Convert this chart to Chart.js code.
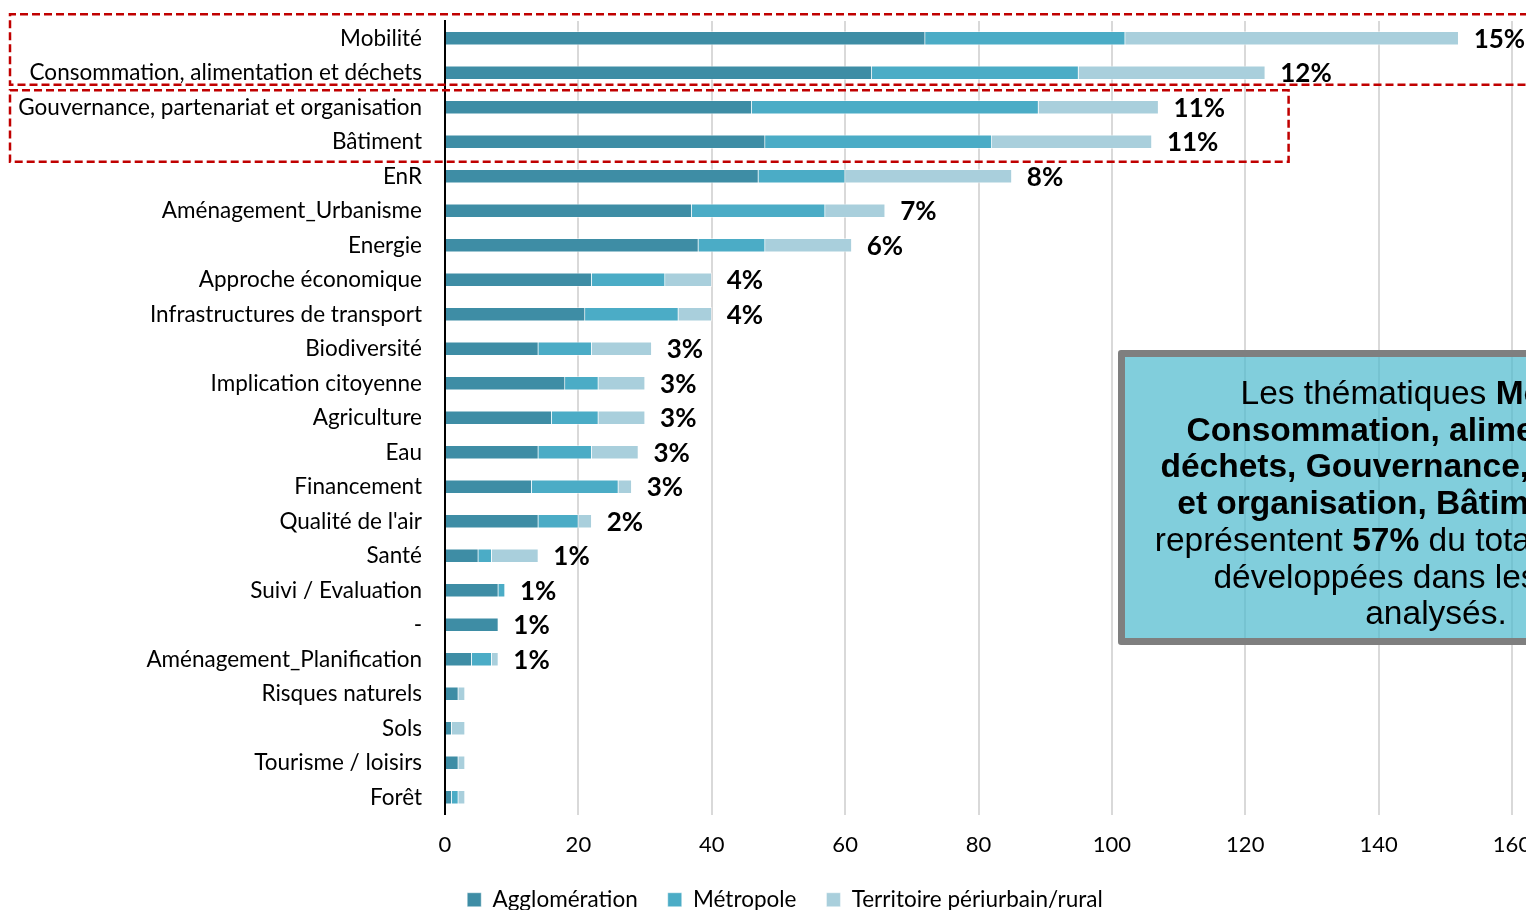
<!DOCTYPE html>
<html>
<head>
<meta charset="utf-8">
<script src="https://cdn.jsdelivr.net/npm/chart.js@4.4.1/dist/chart.umd.min.js"></script>
<style>
html, body { margin: 0; padding: 0; width: 1526px; height: 910px; overflow: hidden; background: #fff; }
#wrap { position: absolute; left: 0; top: 0; width: 1600px; height: 921px; }
#note {
  position: absolute; left: 1118px; top: 350px; width: 636px; height: 295px;
  box-sizing: border-box; border: 7px solid #7f7f7f; border-radius: 3px;
  background: rgba(75, 185, 205, 0.7);
  font-family: "Liberation Sans", Arial, sans-serif; font-size: 33.5px; line-height: 36.7px;
  text-align: center; color: #000; padding-top: 18px;
}
</style>
</head>
<body>
<div id="wrap">
  <canvas id="grafica" width="1600" height="921"></canvas>
  <div id="note">Les thématiques <b>Mobilité,</b><br><b>Consommation, alimentation et</b><br><b>déchets, Gouvernance, partenariat</b><br><b>et organisation, Bâtiment et EnR</b><br>représentent <b>57%</b> du total des actions<br>développées dans les PCAET<br>analysés.</div>
</div>
<script>
// donnees
var categories = ['Mobilité', 'Consommation, alimentation et déchets', 'Gouvernance, partenariat et organisation',
  'Bâtiment', 'EnR', 'Aménagement_Urbanisme', 'Energie', 'Approche économique', 'Infrastructures de transport',
  'Biodiversité', 'Implication citoyenne', 'Agriculture', 'Eau', 'Financement', "Qualité de l'air", 'Santé',
  'Suivi / Evaluation', '-', 'Aménagement_Planification', 'Risques naturels', 'Sols', 'Tourisme / loisirs', 'Forêt'];
var agglomeration = [72, 64, 46, 48, 47, 37, 38, 22, 21, 14, 18, 16, 14, 13, 14, 5, 8, 8, 4, 2, 1, 2, 1];
var metropole     = [30, 31, 43, 34, 13, 20, 10, 11, 14, 8, 5, 7, 8, 13, 6, 2, 1, 0, 3, 0, 0, 0, 1];
var territoire    = [50, 28, 18, 24, 25, 9, 13, 7, 5, 9, 7, 7, 7, 2, 2, 7, 0, 0, 1, 1, 2, 1, 1];
var pourcentages  = ['15%', '12%', '11%', '11%', '8%', '7%', '6%', '4%', '4%', '3%', '3%', '3%', '3%', '3%',
  '2%', '1%', '1%', '1%', '1%', '', '', '', ''];
var xMin = 0, xMax = 160, xPas = 20;

var police = 'Lato, "Noto Sans", sans-serif';

// etiquettes en % au bout des barres
var etiquettes = {
  id: 'etiquettes',
  afterDatasetsDraw: function (chart) {
    var ctx = chart.ctx;
    var meta = chart.getDatasetMeta(chart.data.datasets.length - 1);
    ctx.save();
    ctx.font = 'bold 26px ' + police;
    ctx.fillStyle = '#000';
    ctx.textBaseline = 'middle';
    ctx.textAlign = 'left';
    meta.data.forEach(function (barre, i) {
      if (pourcentages[i]) ctx.fillText(pourcentages[i], barre.x + 15, barre.y + 1);
    });
    ctx.restore();
  }
};

// cadres rouges en pointilles + legende un peu decalee vers la droite
var cadres = {
  id: 'cadres',
  afterLayout: function (chart) {
    chart.legend.left = 58;
  },
  afterDraw: function (chart) {
    var ctx = chart.ctx, y = chart.scales.y, x = chart.scales.x;
    ctx.save();
    ctx.strokeStyle = '#c00000';
    ctx.lineWidth = 2.5;
    ctx.setLineDash([8, 4]);
    var haut1 = y.getPixelForValue(0) - 24, bas1 = y.getPixelForValue(1) + 12;
    ctx.beginPath();
    ctx.moveTo(1600, haut1); ctx.lineTo(10, haut1); ctx.lineTo(10, bas1); ctx.lineTo(1600, bas1);
    ctx.stroke();
    var haut2 = y.getPixelForValue(2) - 17, bas2 = y.getPixelForValue(3) + 20, droite2 = x.getPixelForValue(126.5);
    ctx.strokeRect(10, haut2, droite2 - 10, bas2 - haut2);
    ctx.restore();
  }
};

var ctx = document.getElementById('grafica').getContext('2d');
var grafica = new Chart(ctx, {
  type: 'bar',
  data: {
    labels: categories,
    datasets: [
      { label: 'Agglomération', data: agglomeration, backgroundColor: '#3e8da5' },
      { label: 'Métropole', data: metropole, backgroundColor: '#4bacc6' },
      { label: 'Territoire périurbain/rural', data: territoire, backgroundColor: '#a9cfdc' }
    ]
  },
  options: {
    indexAxis: 'y',
    responsive: false,
    animation: false,
    layout: { padding: { left: 0, right: 88, top: 21, bottom: 0 } },
    datasets: { bar: { barThickness: 14, borderWidth: 1, borderColor: 'rgba(255,255,255,0.45)' } },
    scales: {
      x: {
        stacked: true, min: xMin, max: xMax,
        ticks: { stepSize: xPas, color: '#000', font: { family: police, size: 22 }, padding: 17 },
        grid: { color: '#d9d9d9', lineWidth: 2, drawTicks: false },
        border: { display: false },
        afterFit: function (s) { s.height = 44; }
      },
      y: {
        stacked: true,
        ticks: { color: '#000', font: { family: police, size: 22.5 }, padding: 15 },
        grid: { display: false },
        border: { color: '#000', width: 2 },
        afterFit: function (s) { s.width = 445; s.paddingTop = 0; s.paddingBottom = 0; }
      }
    },
    plugins: {
      legend: {
        position: 'bottom',
        labels: { boxWidth: 14, boxHeight: 14, padding: 30, color: '#000', font: { family: police, size: 22.5 } }
      },
      tooltip: { enabled: false }
    }
  },
  plugins: [etiquettes, cadres]
});
</script>
</body>
</html>
